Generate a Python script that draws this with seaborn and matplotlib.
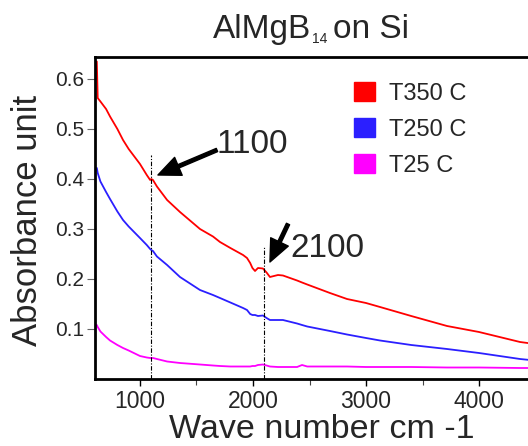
import numpy as np
import pandas as pd
import matplotlib
matplotlib.use("Agg")
import matplotlib.pyplot as plt
from matplotlib.patches import Patch
import seaborn as sns

# ---------------- data ----------------
wavenumber = [618, 626, 650, 700, 735, 800, 850, 900, 1000, 1060, 1090, 1100, 1115,
              1150, 1240, 1354, 1531, 1646, 1708, 1800, 1912, 1947, 1975, 1995, 2018,
              2044, 2088, 2120, 2150, 2221, 2265, 2390, 2434, 2480, 2681, 2832, 3000,
              3124, 3400, 3717, 4000, 4363, 4628]
abs_t350 = [0.635, 0.562, 0.555, 0.54, 0.525, 0.50, 0.478, 0.46, 0.43, 0.408, 0.398,
            0.40, 0.398, 0.385, 0.358, 0.334, 0.30, 0.285, 0.274, 0.262, 0.248, 0.242,
            0.232, 0.222, 0.216, 0.222, 0.221, 0.213, 0.204, 0.208, 0.207, 0.197, 0.193,
            0.189, 0.172, 0.160, 0.152, 0.144, 0.126, 0.106, 0.094, 0.074, 0.066]
abs_t250 = [0.422, 0.412, 0.395, 0.374, 0.36, 0.335, 0.318, 0.305, 0.282, 0.268, 0.26,
            0.258, 0.256, 0.245, 0.228, 0.204, 0.178, 0.168, 0.162, 0.153, 0.142, 0.138,
            0.13, 0.128, 0.128, 0.126, 0.127, 0.122, 0.118, 0.118, 0.118, 0.111, 0.108,
            0.105, 0.096, 0.089, 0.082, 0.077, 0.068, 0.06, 0.052, 0.04, 0.034]
abs_t25 = [0.108, 0.104, 0.095, 0.084, 0.077, 0.068, 0.062, 0.057, 0.046, 0.043, 0.042,
           0.042, 0.042, 0.04, 0.035, 0.032, 0.029, 0.027, 0.026, 0.025, 0.025, 0.025,
           0.025, 0.026, 0.026, 0.028, 0.029, 0.027, 0.025, 0.024, 0.024, 0.024, 0.028,
           0.025, 0.025, 0.025, 0.024, 0.024, 0.024, 0.023, 0.023, 0.022, 0.022]
series_names = ["T350 C", "T250 C", "T25 C"]
series_colors = ["#ff0000", "#2b1fff", "#ff00ff"]
x_ticks = [1000, 2000, 3000, 4000]
y_ticks = [0.1, 0.2, 0.3, 0.4, 0.5, 0.6]
marker_lines = [1100, 2100]
marker_labels = ["1100", "2100"]

df = pd.concat([
    pd.DataFrame({"Wave number": wavenumber, "Absorbance": vals, "Sample": name})
    for name, vals in zip(series_names, [abs_t350, abs_t250, abs_t25])
], ignore_index=True)

# ---------------- style ----------------
sns.set_style("ticks")
plt.rcParams["font.family"] = ["Liberation Sans", "DejaVu Sans"]

W, H = 528, 446
fig = plt.figure(figsize=(W / 100, H / 100), dpi=100)
fig.patch.set_facecolor("white")
ax = fig.add_axes([95 / W, 1 - 379 / H, (550 - 95) / W, (379 - 57) / H])

sns.lineplot(data=df, x="Wave number", y="Absorbance", hue="Sample",
             palette=dict(zip(series_names, series_colors)), hue_order=series_names,
             estimator=None, legend=False, linewidth=1.3, ax=ax)

ax.set_xlim(602, 4628)
ax.set_ylim(0, 0.644)
ax.set_xticks(x_ticks)
ax.set_xticks([1500, 2500, 3500, 4500], minor=True)
ax.set_xticklabels([str(t) for t in x_ticks], fontsize=16.5)
ax.set_yticks(y_ticks)
ax.set_yticklabels([f"{t:.1f}" for t in y_ticks], fontsize=15)
ax.tick_params(axis="x", which="major", direction="out", length=5, width=1, pad=3, color="black")
ax.tick_params(axis="x", which="minor", direction="out", length=4, width=0.8, color="#444444")
ax.tick_params(axis="y", direction="out", length=6, width=0.8, pad=2, color="#666666")
ax.set_xlabel("")
ax.set_ylabel("")
for side in ["left", "bottom", "top"]:
    ax.spines[side].set_linewidth(2)
    ax.spines[side].set_color("black")
ax.spines["right"].set_visible(False)

# vertical dash-dot markers
ax.vlines(marker_lines[0], 0, 0.448, colors="black", linewidth=0.8,
          linestyles=(0, (4, 1.5, 1, 1.5)))
ax.vlines(marker_lines[1], 0, 0.264, colors="black", linewidth=0.8,
          linestyles=(0, (4, 1.5, 1, 1.5)))

# arrows and labels
arrow_kw = dict(facecolor="black", edgecolor="black", width=2.5, headwidth=14,
                headlength=16, shrink=0)
ax.annotate("", xy=(1159, 0.408), xytext=(1681, 0.458), arrowprops=arrow_kw)
ax.text(1681, 0.452, marker_labels[0], fontsize=24, ha="left", va="baseline")
ax.annotate("", xy=(2150, 0.234), xytext=(2310, 0.31), arrowprops=arrow_kw)
ax.text(2327, 0.244, marker_labels[1], fontsize=24, ha="left", va="baseline")

# legend with square patches
handles = [Patch(facecolor=c, edgecolor=c) for c in series_colors]
ax.legend(handles, series_names, loc="upper left",
          bbox_to_anchor=(354 / W, 1 - 82 / H), bbox_transform=fig.transFigure,
          frameon=False, fontsize=17, handlelength=0.87, handleheight=0.87,
          handletextpad=0.62, labelspacing=0.56, borderpad=0, borderaxespad=0)

# title (with small subscript) / axis labels
fig.text(311 / W, 1 - 38 / H, "AlMgB", fontsize=24, ha="right", va="baseline")
fig.text(312 / W, 1 - 43 / H, "14", fontsize=10, ha="left", va="baseline")
fig.text(333 / W, 1 - 38 / H, "on Si", fontsize=24, ha="left", va="baseline")
fig.text(322 / W, 1 - 438.5 / H, "Wave number cm -1", fontsize=24.5,
         ha="center", va="baseline")
fig.text(37 / W, 1 - 220 / H, "Absorbance unit", fontsize=25, rotation=90,
         ha="center", va="baseline", rotation_mode="anchor")

fig.savefig("out.png", dpi=100, facecolor="white")
